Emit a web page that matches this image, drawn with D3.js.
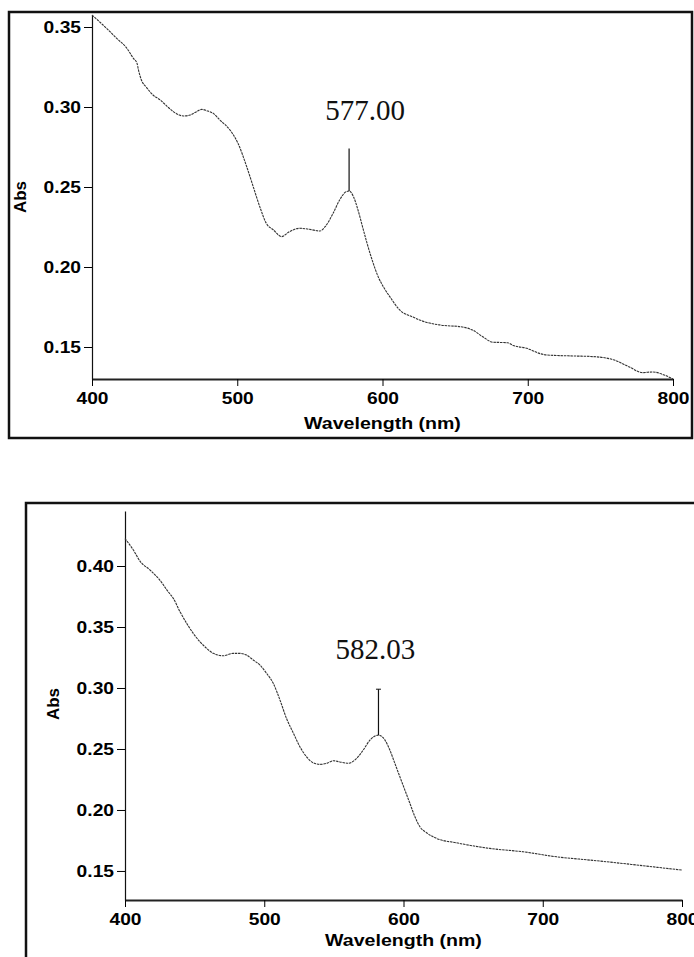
<!DOCTYPE html>
<html lang="en">

<head>
    <meta charset="utf-8">
    <title>Absorbance spectra</title>
    <script src="https://cdn.jsdelivr.net/npm/d3@7"></script>
    <style>
        body { margin: 0; background: #fff; }
        .tick text, .axis-title { font-family: "Liberation Sans", Arial, sans-serif; font-weight: bold; }
        .peak-label { font-family: "Liberation Serif", "Times New Roman", serif; }
    </style>
</head>

<body>
    <svg width="694" height="957"></svg>
    <script>
        const wavelengthTicks = [400, 500, 600, 700, 800];
        const absTicksTop = [0.15, 0.20, 0.25, 0.30, 0.35];
        const absTicksBottom = [0.15, 0.20, 0.25, 0.30, 0.35, 0.40];

        const topWavelength = [400, 410, 417, 424, 428.5, 431, 432, 434, 437.5, 442, 447, 451.5, 456, 463, 467.5,
            472, 475.5, 479, 483.5, 488, 495, 500.5, 506.5, 511, 515.5, 520, 525, 530.5, 536, 543, 550, 557, 560.5,
            566, 570.5, 575, 577, 580, 583, 586, 589, 593, 597, 601, 605, 612, 621, 630, 640, 655, 662, 669, 676,
            686, 690, 700, 708, 713, 731, 745, 759, 770, 779, 786, 794, 800];
        const topAbs = [0.3575, 0.3492, 0.3429, 0.3367, 0.3304, 0.3273, 0.3231, 0.3169, 0.3123, 0.3075, 0.3044,
            0.3006, 0.2971, 0.2944, 0.2950, 0.2971, 0.2985, 0.2977, 0.2960, 0.2919, 0.2856, 0.2773, 0.2627, 0.2502,
            0.2377, 0.2273, 0.2231, 0.2190, 0.2221, 0.2242, 0.2235, 0.2225, 0.2252, 0.2336, 0.2419, 0.2471, 0.2475,
            0.2440, 0.2360, 0.2260, 0.2160, 0.2040, 0.1940, 0.1870, 0.1815, 0.1730, 0.1687, 0.1655, 0.1637, 0.1625,
            0.1606, 0.1564, 0.1530, 0.1527, 0.1510, 0.1490, 0.1460, 0.1450, 0.1444, 0.1440, 0.1420, 0.1375, 0.1340,
            0.1344, 0.1325, 0.1300];

        const bottomWavelength = [400, 406, 411, 418, 425, 431, 434.7, 439.5, 444.3, 449, 453.8, 458.6, 463.4,
            470.6, 477.7, 482.6, 487.3, 492.1, 496.9, 501.7, 506.5, 511.3, 516, 521, 525.6, 530.4, 535.2, 540,
            544.8, 549.6, 554.3, 560.3, 566.3, 571.1, 575.9, 582, 586.7, 590.2, 593.8, 597.4, 601, 604.6, 608.2,
            611.8, 616.6, 623.7, 638, 662, 686, 710, 734, 753, 774.5, 800];
        const bottomAbs = [0.4225, 0.4131, 0.4036, 0.3967, 0.3885, 0.3789, 0.3735, 0.3625, 0.3530, 0.3448, 0.3379,
            0.3325, 0.3284, 0.3264, 0.3284, 0.3284, 0.3270, 0.3229, 0.3188, 0.3120, 0.3038, 0.2901, 0.2750, 0.2628,
            0.2518, 0.2436, 0.2387, 0.2374, 0.2382, 0.2404, 0.2394, 0.2383, 0.2423, 0.2491, 0.2573, 0.2614, 0.2573,
            0.2491, 0.2382, 0.2272, 0.2163, 0.2054, 0.1945, 0.1862, 0.1813, 0.1767, 0.1731, 0.1685, 0.1657, 0.1616,
            0.1589, 0.1567, 0.1540, 0.1507];

        const peakLabels = ["577.00", "582.03"];
        const peakNm = [577.00, 582.03];
        const peakAbs = [0.2475, 0.2614];
        const markerTopAbs = [0.274, 0.299];

        let svg = d3.select("svg");

        // layout of the two scanned panels (pixels)
        let panels = [
            {
                wl: topWavelength, abs: topAbs, yTicks: absTicksTop, yDomain: [0.13, 0.3575],
                left: 92, right: 673, top: 15, bottom: 379,
                box: { x: 9, y: 12, w: 683, h: 426 },
                absLabel: [20, 197], titleY: 429, labelDx: 16, labelDy: 29, cap: false
            },
            {
                wl: bottomWavelength, abs: bottomAbs, yTicks: absTicksBottom, yDomain: [0.1262, 0.4451],
                left: 125, right: 682, top: 511, bottom: 900,
                box: { x: 26, y: 503, w: 720, h: 500 },
                absLabel: [53, 704], titleY: 946, labelDx: -3, labelDy: 30, cap: true
            }
        ];

        // widen axis text like the scanned figure
        let stretch = (sel, k) => sel.each(function () {
            let w = this.getComputedTextLength();
            d3.select(this).attr("textLength", w * k).attr("lengthAdjust", "spacingAndGlyphs");
        });

        panels.forEach((p, i) => {
            let data = p.wl.map((w, j) => ({ wl: w, abs: p.abs[j] }));

            let xScale = d3.scaleLinear().domain([400, 800]).range([p.left, p.right]);
            let yScale = d3.scaleLinear().domain(p.yDomain).range([p.bottom, p.top]);

            svg.append("rect")
                .attr("x", p.box.x)
                .attr("y", p.box.y)
                .attr("width", p.box.w)
                .attr("height", p.box.h)
                .attr("fill", "none")
                .attr("stroke", "#111")
                .attr("stroke-width", 2.5);

            let xAxis = svg.append("g")
                .attr("transform", "translate(0," + p.bottom + ")")
                .call(d3.axisBottom(xScale).tickValues(wavelengthTicks).tickFormat(d3.format("d"))
                    .tickSize(7).tickSizeOuter(0).tickPadding(6));
            xAxis.select(".domain").attr("stroke", "#222").attr("stroke-width", 2);
            xAxis.selectAll("text").attr("font-size", 17).attr("fill", "#000").call(stretch, 1.13);

            let yAxis = svg.append("g")
                .attr("transform", "translate(" + p.left + ",0)")
                .call(d3.axisLeft(yScale).tickValues(p.yTicks).tickFormat(d3.format(".2f"))
                    .tickSize(8).tickSizeOuter(0).tickPadding(3));
            yAxis.select(".domain").attr("stroke", "#111").attr("stroke-width", 1.2);
            yAxis.selectAll("text").attr("font-size", 17).attr("fill", "#000").call(stretch, 1.13);

            svg.append("text")
                .attr("class", "axis-title")
                .attr("x", (p.left + p.right) / 2)
                .attr("y", p.titleY)
                .attr("text-anchor", "middle")
                .attr("font-size", 17)
                .text("Wavelength (nm)")
                .call(stretch, 1.15);

            svg.append("text")
                .attr("class", "axis-title")
                .attr("transform", "translate(" + p.absLabel[0] + "," + p.absLabel[1] + ") rotate(-90)")
                .attr("text-anchor", "middle")
                .attr("dy", "0.35em")
                .attr("font-size", 17)
                .text("Abs");

            let line = d3.line()
                .x(d => xScale(d.wl))
                .y(d => yScale(d.abs))
                .curve(d3.curveMonotoneX);

            svg.append("path")
                .datum(data)
                .attr("fill", "none")
                .attr("stroke", "#333")
                .attr("stroke-width", 1.1)
                .attr("stroke-dasharray", "2.5,0.8")
                .attr("d", line);

            // peak marker
            let mx = xScale(peakNm[i]);
            svg.append("line")
                .attr("x1", mx).attr("x2", mx)
                .attr("y1", yScale(peakAbs[i]))
                .attr("y2", yScale(markerTopAbs[i]))
                .attr("stroke", "#111")
                .attr("stroke-width", 1.2);
            if (p.cap) {
                svg.append("line")
                    .attr("x1", mx - 2.5).attr("x2", mx + 2.5)
                    .attr("y1", yScale(markerTopAbs[i]))
                    .attr("y2", yScale(markerTopAbs[i]))
                    .attr("stroke", "#111")
                    .attr("stroke-width", 1);
            }

            svg.append("text")
                .attr("class", "peak-label")
                .attr("x", mx + p.labelDx)
                .attr("y", yScale(markerTopAbs[i]) - p.labelDy)
                .attr("text-anchor", "middle")
                .attr("font-size", 29)
                .attr("fill", "#111")
                .text(peakLabels[i]);
        });
    </script>
</body>

</html>
